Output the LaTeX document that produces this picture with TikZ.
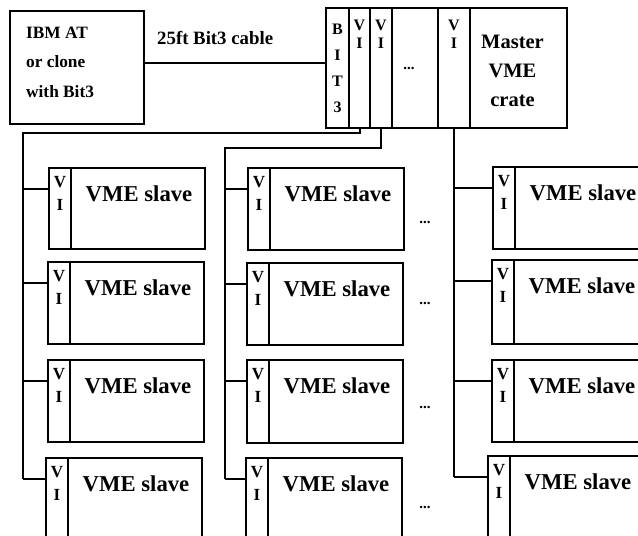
\documentclass[tikz,border=0pt]{standalone}
\usepackage{fontspec}
\setmainfont{Liberation Serif}
\usetikzlibrary{calc}
\tikzset{
  wire/.style={line width=2pt},
  box/.style={draw, line width=2pt, rectangle, inner sep=0pt},
  slv/.style={box, minimum width=156pt},
  vic/.style={box, minimum width=22pt},
  crcol/.style={box, minimum height=120pt, anchor=north west},
  vitxt/.style={inner sep=0pt, align=center, font=\bfseries\fontsize{17}{23}\selectfont},
  cvitxt/.style={inner sep=0pt, align=center, font=\bfseries\fontsize{16}{18}\selectfont},
  slvtxt/.style={inner sep=0pt, font=\bfseries\fontsize{22.7}{26}\selectfont},
  dotstxt/.style={inner sep=0pt, font=\bfseries\fontsize{15}{16}\selectfont},
}
\newcommand{\vmeslave}[4]{%
  \node[slv, minimum height=#4pt, anchor=north west] (#1) at (#2,#3) {};
  \node[vic, minimum height=#4pt, anchor=north west] (#1v) at (#1.north west) {};
  \node[vitxt] (#1vt) at ([yshift=-26.5pt]#1v.north) {V\\I};
  \node[slvtxt] (#1t) at ([yshift=-27pt]$(#1v.north east)!0.5!(#1.north east)$) {VME slave};
  \coordinate (#1c) at ([yshift=-22pt]#1v.north west);
}
\begin{document}
\begin{tikzpicture}[x=1pt,y=-1pt]
\useasboundingbox (0,0) rectangle (638,536);
\clip (0,0) rectangle (638,536);
\fill[white] (0,0) rectangle (638,536);

% host computer
\node[box, minimum width=134pt, minimum height=113pt, anchor=north west] (ibm) at (9,10) {};
\node[inner sep=0pt, anchor=west, align=left, font=\bfseries\fontsize{17.3}{29.5}\selectfont] (ibmt) at (26,62) {IBM AT\\or clone\\with Bit3};

% master crate
\node[crcol, minimum width=23pt] (bit3) at (325,7) {};
\node[crcol, minimum width=21pt] (vi1) at (348,7) {};
\node[crcol, minimum width=22pt] (vi2) at (369,7) {};
\node[crcol, minimum width=46pt] (cdots) at (391,7) {};
\node[crcol, minimum width=32pt] (vi5) at (437,7) {};
\node[crcol, minimum width=97pt] (master) at (469,7) {};
\node[inner sep=0pt, align=center, font=\bfseries\fontsize{16}{26}\selectfont] (bit3t) at (bit3.center) {B\\I\\T\\3};
\node[cvitxt] (vi1t) at ([yshift=-27pt]vi1.north) {V\\I};
\node[cvitxt] (vi2t) at ([yshift=-27pt]vi2.north) {V\\I};
\node[cvitxt] (vi5t) at ([yshift=-27pt]vi5.north) {V\\I};
\node[dotstxt] (cdotst) at ([xshift=-6pt]cdots.center) {...};
\node[inner sep=0pt, align=center, font=\bfseries\fontsize{20.5}{29}\selectfont] (mastert) at ([xshift=-6pt,yshift=-3pt]master.center) {Master\\VME\\crate};

% cable
\draw[wire] ([yshift=4.5pt]ibm.east) -- ([yshift=4.5pt]ibm.east -| bit3.west);
\node[inner sep=0pt, anchor=west, font=\bfseries\fontsize{18.8}{22}\selectfont] (cable) at (157,38) {25ft Bit3 cable};

% slaves, column 1
\vmeslave{sa}{48}{167}{81}
\vmeslave{sb}{47}{261}{82}
\vmeslave{sc}{47}{359}{82}
\vmeslave{sd}{45}{457}{100}
% column 2
\vmeslave{ta}{247}{167}{82}
\vmeslave{tb}{246}{262}{82}
\vmeslave{tc}{246}{359}{83}
\vmeslave{td}{245}{457}{100}
% column 3
\vmeslave{ua}{492}{166}{82}
\vmeslave{ub}{491}{259}{84}
\vmeslave{uc}{491}{359}{82}
\vmeslave{ud}{487}{455}{100}

% dots between columns
\node[dotstxt] (d1) at (425,222) {...};
\node[dotstxt] (d2) at (425,303) {...};
\node[dotstxt] (d3) at (425,407) {...};
\node[dotstxt] (d4) at (425,507) {...};

% buses
\coordinate (j1) at (23,133);
\coordinate (j2) at (225,148);
\draw[wire] (vi1.south) |- (j1) -- (j1 |- sdc);
\draw[wire] (vi2.south) |- (j2) -- (j2 |- tdc);
\draw[wire] (vi5.south) -- (vi5.south |- udc);
\foreach \s in {sa,sb,sc,sd} \draw[wire] (j1 |- \s c) -- (\s c);
\foreach \s in {ta,tb,tc,td} \draw[wire] (j2 |- \s c) -- (\s c);
\foreach \s in {ua,ub,uc,ud} \draw[wire] (vi5.south |- \s c) -- (\s c);
\end{tikzpicture}
\end{document}
